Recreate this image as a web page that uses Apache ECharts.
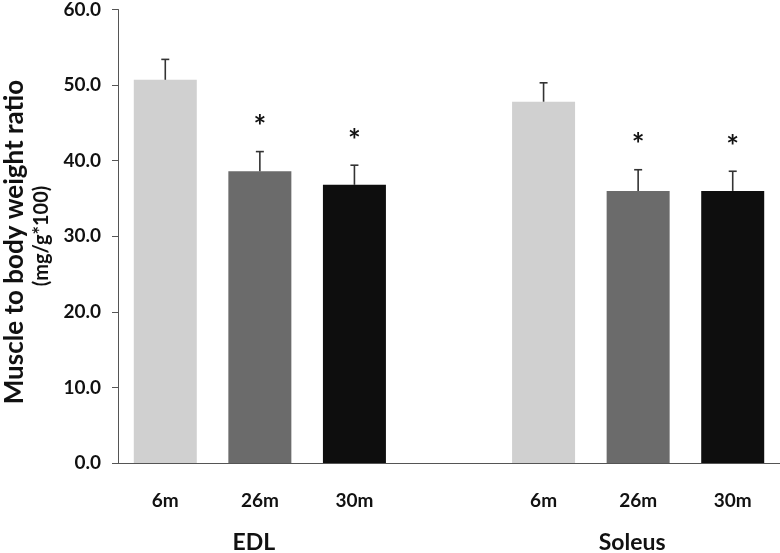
<!DOCTYPE html>
<html>
<head>
<meta charset="utf-8">
<script src="https://cdn.jsdelivr.net/npm/echarts@6/dist/echarts.min.js"></script>
<style>
html,body{margin:0;padding:0;background:#fff;}
#chart{width:780px;height:553px;}
</style>
</head>
<body>
<div id="chart"></div>
<script>
var categories = ['6m', '26m', '30m', '', '6m', '26m', '30m'];
var means = [50.7, 38.6, 36.8, null, 47.8, 36.0, 36.0];
var errors = [2.7, 2.6, 2.6, null, 2.5, 2.8, 2.6];
var significant = [false, true, true, false, false, true, true];
var groupNames = ['EDL', 'Soleus'];
var groupCenterIndex = [1, 5];
var barColors = ['#d0d0d0', '#6b6b6b', '#0e0e0e', '#ffffff', '#d0d0d0', '#6b6b6b', '#0e0e0e'];
var yTicks = [0, 10, 20, 30, 40, 50, 60];

var FONT = 'Lato, "Open Sans", sans-serif';
var chart = echarts.init(document.getElementById('chart'), null, {renderer: 'canvas'});

var barData = means.map(function (v, i) {
  return v == null ? null : {value: v, itemStyle: {color: barColors[i]}};
});
var errData = [];
means.forEach(function (v, i) {
  if (v != null) errData.push([i, v, v + errors[i], significant[i] ? 1 : 0]);
});

var option = {
  animation: false,
  backgroundColor: '#ffffff',
  grid: {left: 118, right: 0, top: 8, bottom: 90, containLabel: false},
  xAxis: {
    type: 'category',
    data: categories,
    axisLine: {lineStyle: {color: '#555', width: 1}},
    axisTick: {show: false},
    axisLabel: {color: '#111', fontFamily: FONT, fontWeight: 'bold', fontSize: 19, margin: 28, interval: 0}
  },
  yAxis: {
    type: 'value',
    min: yTicks[0],
    max: yTicks[yTicks.length - 1],
    interval: 10,
    splitLine: {show: false},
    axisLine: {show: true, lineStyle: {color: '#555', width: 1}},
    axisTick: {show: true, inside: false, length: 6, lineStyle: {color: '#555'}},
    axisLabel: {
      color: '#111', fontFamily: FONT, fontWeight: 'bold', fontSize: 19, margin: 17,
      formatter: function (v) { return v.toFixed(1); }
    }
  },
  series: [
    {
      type: 'bar',
      data: barData,
      barWidth: 63,
      itemStyle: {borderWidth: 0}
    },
    {
      type: 'custom',
      data: errData,
      z: 5,
      renderItem: function (params, api) {
        var x = api.value(0);
        var base = api.coord([x, api.value(1)]);
        var top = api.coord([x, api.value(2)]);
        var children = [
          {type: 'line', shape: {x1: base[0], y1: base[1], x2: top[0], y2: top[1]},
           style: {stroke: '#333', lineWidth: 1.6}},
          {type: 'line', shape: {x1: top[0] - 4, y1: top[1], x2: top[0] + 4, y2: top[1]},
           style: {stroke: '#333', lineWidth: 1.6}}
        ];
        if (api.value(3) === 1) {
          children.push({type: 'text', x: top[0], y: top[1] - 24,
            style: {text: '*', fill: '#111', font: 'bold 30px ' + FONT, align: 'center', verticalAlign: 'middle'}});
        }
        return {type: 'group', children: children};
      }
    }
  ]
};
chart.setOption(option);

var graphics = [
  {type: 'text', x: 15, y: 242, rotation: Math.PI / 2,
   style: {text: 'Muscle to body weight ratio', fill: '#111', font: 'bold 26px ' + FONT, align: 'center', verticalAlign: 'middle'}},
  {type: 'text', x: 42, y: 236, rotation: Math.PI / 2,
   style: {text: '(mg/g*100)', fill: '#111', font: 'bold 20px ' + FONT, align: 'center', verticalAlign: 'middle'}}
];
groupNames.forEach(function (name, k) {
  var px = chart.convertToPixel({xAxisIndex: 0}, groupCenterIndex[k]);
  graphics.push({type: 'text', x: px - 6, y: 543,
    style: {text: name, fill: '#111', font: 'bold 23px ' + FONT, align: 'center', verticalAlign: 'middle'}});
});
chart.setOption({graphic: graphics});
</script>
</body>
</html>
